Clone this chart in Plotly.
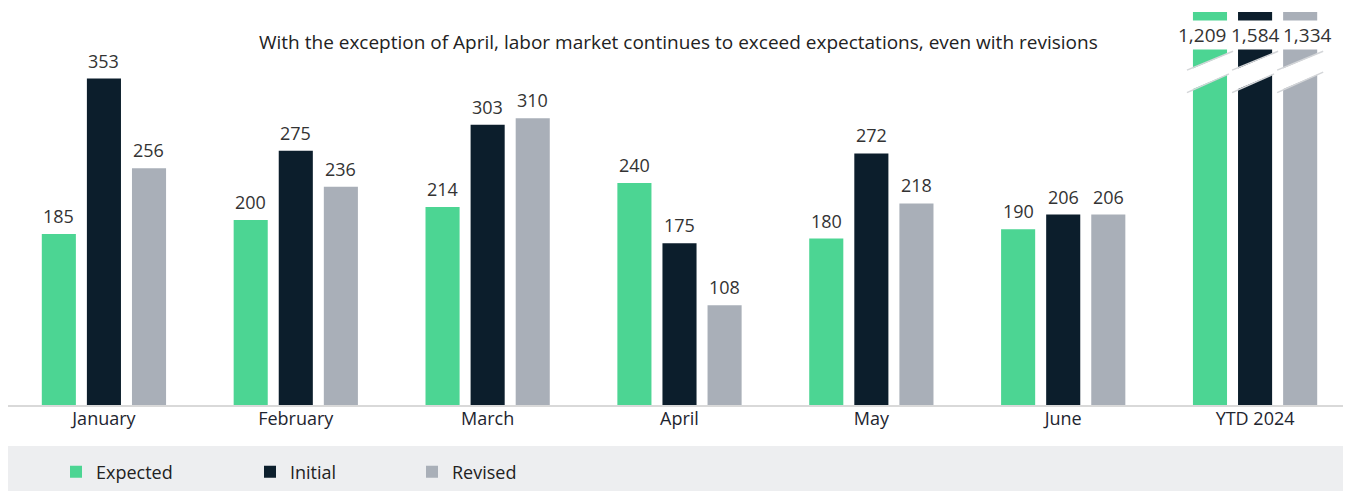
import plotly.graph_objects as go

categories = ["January", "February", "March", "April", "May", "June", "YTD 2024"]
expected = [185, 200, 214, 240, 180, 190, 1209]
initial = [353, 275, 303, 175, 272, 206, 1584]
revised = [256, 236, 310, 108, 218, 206, 1334]
series_names = ["Expected", "Initial", "Revised"]
series_values = [expected, initial, revised]
title_text = "With the exception of April, labor market continues to exceed expectations, even with revisions"

colors = ["#4CD593", "#0C1E2C", "#A9AFB8"]
FONT = "Open Sans"
OFF = 8  # page body margin
W, H = 1351 - OFF, 491 - OFF
ML, MR, MT, MB = 0, 0, 4, 86
PW, PH = W - ML - MR, H - MT - MB
YMAX = 425
BARGAP = 0.295
SLOT = (1 - BARGAP) / 3  # category units per bar slot
SLOT_PX = 45


def px_x(p):  # reference-window pixel -> paper x
    return (p - OFF - ML) / PW


def px_y(p):  # reference-window pixel -> paper y
    return (H - MB - (p - OFF)) / PH


fig = go.Figure()
legend_ids = ["legend", "legend2", "legend3"]
for name, vals, col, lg in zip(series_names, series_values, colors, legend_ids):
    fig.add_trace(go.Bar(
        x=categories, y=vals, name=name, marker=dict(color=col, line=dict(width=0)),
        legend=lg, hoverinfo="x+y+name",
    ))

ytd_shift = [-53, 0, 52]
annotations = []
for j, vals in enumerate(series_values):
    for i, (c, v) in enumerate(zip(categories, vals)):
        if v > YMAX:
            annotations.append(dict(
                x=c, y=YMAX * 0.942, xref="x", yref="y", text=f"{v:,}",
                xshift=ytd_shift[j], showarrow=False, yanchor="middle",
                font=dict(family=FONT, size=19, color="#333333"),
                bgcolor="white", borderpad=1,
            ))
        else:
            annotations.append(dict(
                x=c, y=v, xref="x", yref="y", text=f"{v:,}",
                xshift=(j - 1) * SLOT_PX, yshift=4, showarrow=False, yanchor="bottom",
                font=dict(family=FONT, size=18, color="#333333"),
            ))

annotations.append(dict(
    text=title_text, x=px_x(678), y=px_y(42), xref="paper", yref="paper",
    xanchor="center", yanchor="middle", showarrow=False,
    font=dict(family=FONT, size=19, color="#222222"),
))

shapes = [dict(type="rect", xref="paper", yref="paper", x0=0, x1=1.0,
               y0=px_y(446), y1=px_y(500),
               fillcolor="#EDEEF0", line=dict(width=0), layer="below")]
# break marks on the clipped YTD bars
ytd_idx = len(categories) - 1
for j, vals in enumerate(series_values):
    if vals[ytd_idx] > YMAX:
        xc = ytd_idx + (j - 1) * SLOT
        xl, xr = xc - 0.12, xc + 0.12
        t_l, t_r = YMAX * 0.852, YMAX * 0.90
        b_l, b_r = YMAX * 0.795, YMAX * 0.847
        shapes.append(dict(type="line", xref="x", yref="y", x0=xl, x1=xr,
                           y0=(t_l + b_l) / 2, y1=(t_r + b_r) / 2,
                           line=dict(color="white", width=19)))
        shapes.append(dict(type="line", xref="x", yref="y", x0=xl, x1=xr, y0=t_l, y1=t_r,
                           line=dict(color="#D4D6D9", width=1.5)))
        shapes.append(dict(type="line", xref="x", yref="y", x0=xl, x1=xr, y0=b_l, y1=b_r,
                           line=dict(color="#D4D6D9", width=1.5)))

legend_text_x = [96, 290, 452]
legend_cfg = {}
for lg, tx in zip(legend_ids, legend_text_x):
    legend_cfg[lg] = dict(
        x=(tx - OFF - 40) / W, y=1 - (472 - OFF) / H, xref="container", yref="container",
        xanchor="left", yanchor="middle", orientation="h",
        bgcolor="rgba(0,0,0,0)", font=dict(family=FONT, size=18, color="#222222"),
    )

fig.update_layout(
    width=W, height=H, autosize=False,
    margin=dict(l=ML, r=MR, t=MT, b=MB),
    paper_bgcolor="white", plot_bgcolor="white",
    barmode="group", bargap=BARGAP, bargroupgap=0.244,
    showlegend=True,
    xaxis=dict(type="category", showgrid=False, showline=True, linecolor="#D9D9D9", linewidth=2,
               ticks="", ticklabelstandoff=-4,
               tickfont=dict(family=FONT, size=18, color="#1E2530"), fixedrange=True),
    yaxis=dict(range=[0, YMAX], visible=False, showgrid=False, zeroline=False, fixedrange=True),
    annotations=annotations, shapes=shapes,
    **legend_cfg,
)

fig.write_html("out.html")
